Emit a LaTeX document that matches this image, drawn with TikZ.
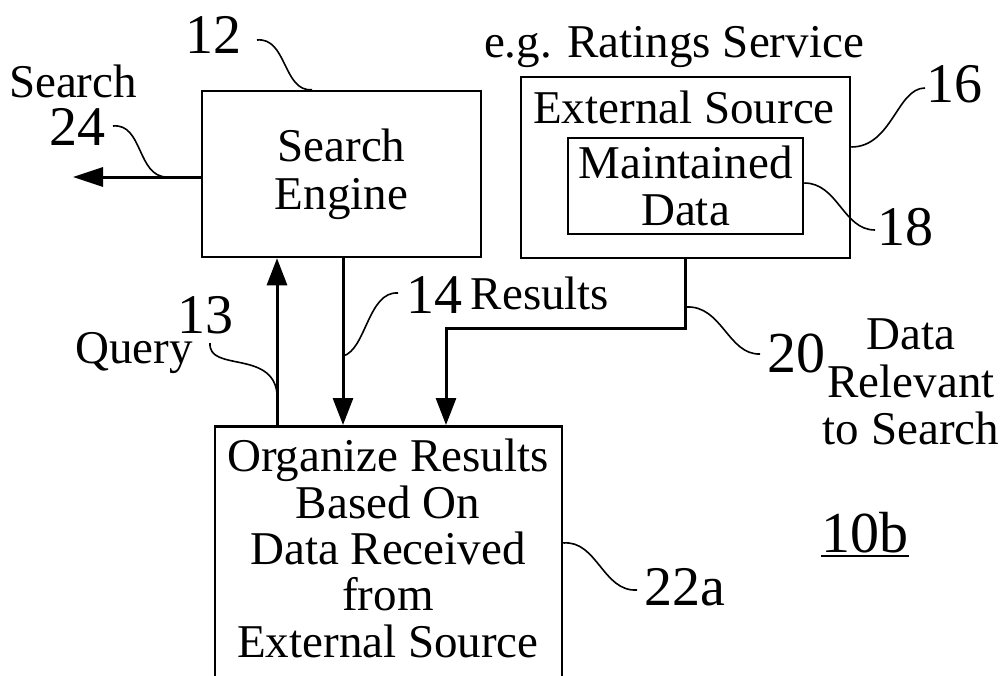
\documentclass[tikz,border=0pt]{standalone}
\usepackage{fontspec}
\setmainfont{Liberation Serif}
\usetikzlibrary{arrows.meta}
\begin{document}
\begin{tikzpicture}[x=1pt,y=-1pt,
  box/.style={draw, line width=2.5pt, inner sep=0pt},
  txt/.style={inner sep=0pt, font=\fontsize{47}{47}\selectfont},
  num/.style={inner sep=0pt, font=\fontsize{56}{56}\selectfont},
  arr/.style={line width=3pt, -{Triangle[length=27pt,width=20pt]}},
  lead/.style={line width=1.6pt},
  conn/.style={line width=3pt}]
\useasboundingbox (0,0) rectangle (1006,675);
\clip (0,0) rectangle (1006,675);
% boxes
\node[box, minimum width=279pt, minimum height=166pt, align=center,
      font=\fontsize{47}{48}\selectfont] (se) at (341.5,174) {Search\\Engine};
\node[box, minimum width=329pt, minimum height=181pt] (ext) at (685.5,167.5) {};
\node[txt, anchor=base] (exttxt) at (684,123) {External Source};
\node[box, minimum width=235pt, minimum height=96pt, align=center,
      font=\fontsize{47}{47}\selectfont] (md) at (685.5,186) {Maintained\\Data};
\node[box, minimum width=347pt, minimum height=320pt, anchor=north] (org) at (388.5,425) {};
\node[inner sep=0pt, align=center, font=\fontsize{47}{46.3}\selectfont] (orgtxt) at (388,548.5)
  {Organize Results\\Based On\\Data Received\\from\\External Source};
% labels
\node[num, anchor=base] (n12) at (213,53) {12};
\node[txt, anchor=base] (lsearch) at (73,97) {Search};
\node[num, anchor=base] (n24) at (77,145) {24};
\node[txt, anchor=base] (lrating) at (674,57) {e.g. Ratings Service};
\node[num, anchor=base] (n16) at (954,102) {16};
\node[num, anchor=base] (n18) at (905,245) {18};
\node[num, anchor=base] (n13) at (205,333) {13};
\node[txt, anchor=base] (lquery) at (134,363) {Query};
\node[num, anchor=base] (n14) at (434,313) {14};
\node[txt, anchor=base] (lresults) at (540,309) {Results};
\node[num, anchor=base, font=\fontsize{58}{58}\selectfont] (n20) at (796,372) {20};
\node[inner sep=0pt, align=center, font=\fontsize{47}{47.5}\selectfont] (ldata) at (911,382)
  {Data\\Relevant\\to Search};
\node[num, anchor=base] (n22) at (685,605) {22a};
\node[num, anchor=base, font=\fontsize{58}{58}\selectfont] (n10) at (865,552) {10b};
\draw[line width=2pt] ([yshift=-4pt]n10.base west) -- ([yshift=-4pt]n10.base east);
% connectors
\coordinate (qx) at (277,0);
\coordinate (rx) at (343,0);
\coordinate (ex) at (446,0);
\coordinate (bend) at (686,328);
\coordinate (stip) at (73,177);
\draw[arr] (org.north -| qx) -- (se.south -| qx);
\draw[arr] (se.south -| rx) -- (org.north -| rx);
\draw[arr] (ext.south) |- (ex |- bend) -- (org.north -| ex);
\draw[line width=3pt, -{Triangle[length=30pt,width=19pt]}] (se.west |- stip) -- (stip);
% leader lines
\coordinate (a12) at (257,40);
\draw[lead] (a12) .. controls (287,37) and (283,92) .. ([xshift=-29.5pt]se.north);
\coordinate (a24) at (113,126);
\draw[lead] (a24) .. controls (143,123) and (137,177) .. (167,177);
\coordinate (a16) at (925,88);
\draw[lead] ([yshift=20.5pt]ext.east) .. controls (892,147) and (897,88) .. (a16);
\coordinate (a18) at (875,230);
\draw[lead] ([yshift=3pt]md.east) .. controls (838,183) and (843,230) .. (a18);
\coordinate (a14) at (398,293);
\draw[lead] (a14) .. controls (368,291) and (366,350) .. (343,356);
\coordinate (a13) at (210,343);
\draw[lead] (a13) .. controls (208,372) and (272,350) .. (277,393);
\coordinate (a20) at (760,354);
\draw[lead] (686,307) .. controls (722,305) and (728,355) .. (a20);
\coordinate (a22) at (637,590);
\draw[lead] (org.east |- 0,543) .. controls (597,540) and (603,592) .. (a22);
\end{tikzpicture}
\end{document}
